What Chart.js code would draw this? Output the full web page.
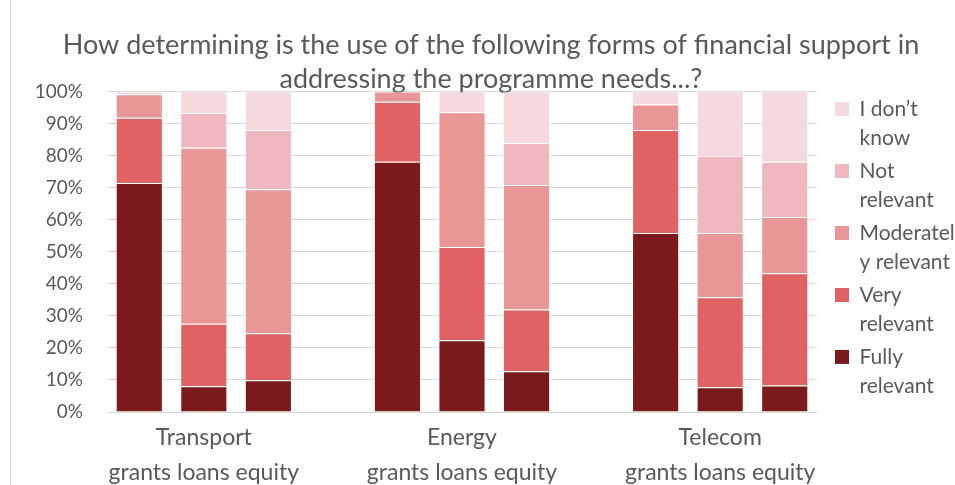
<!DOCTYPE html>
<html>
<head>
<meta charset="utf-8">
<script src="https://cdn.jsdelivr.net/npm/chart.js@4/dist/chart.umd.min.js"></script>
<style>
  html, body { margin: 0; padding: 0; background: #fff; }
  #wrap { position: relative; width: 955px; height: 485px; }
  #edge { position: absolute; left: 10px; top: 0; width: 1px; height: 485px; background: #d9d9d9; }
</style>
</head>
<body>
<div id="wrap">
  <canvas id="chart" width="955" height="485"></canvas>
  <div id="edge"></div>
</div>
<script>
// sectors and the form of support inside each
const sectors = ['Transport', 'Energy', 'Telecom'];
const forms = ['grants', 'loans', 'equity'];

// shares in %, order: Transport grants/loans/equity, Energy ..., Telecom ...
const fullyRelevant      = [71.4,  8.0,  9.9, 78.1, 22.4, 12.7, 55.8,  7.7,  8.3];
const veryRelevant       = [20.4, 19.5, 14.7, 18.7, 29.1, 19.3, 32.2, 28.1, 35.0];
const moderatelyRelevant = [ 7.3, 54.9, 44.9,  3.2, 42.0, 38.8,  7.9, 20.0, 17.5];
const notRelevant        = [ 0.0, 10.9, 18.5,  0.0,  0.0, 13.1,  0.0, 24.1, 17.3];
const dontKnow           = [ 0.9,  6.7, 12.0,  0.0,  6.5, 16.1,  4.1, 20.1, 21.9];

const yTicks = [0, 10, 20, 30, 40, 50, 60, 70, 80, 90, 100];

const seriesNames = ['Fully\nrelevant', 'Very\nrelevant', 'Moderatel\ny relevant', 'Not\nrelevant', 'I don\u2019t\nknow'];
const seriesColors = ['#7a1a1a', '#e06262', '#e99696', '#efb8c1', '#f6d9dd'];
const seriesValues = [fullyRelevant, veryRelevant, moderatelyRelevant, notRelevant, dontKnow];

// one empty slot between sectors, like the original
const labels = [];
const slotOf = [];
sectors.forEach((s, si) => {
  forms.forEach((f, fi) => {
    slotOf.push(labels.length);
    labels.push(fi === 1 ? [s, forms.join(' ')] : '');
  });
  if (si < sectors.length - 1) labels.push('');
});

function spread(vals) {
  const out = labels.map(() => null);
  vals.forEach((v, i) => { out[slotOf[i]] = v; });
  return out;
}

const grey = '#595959';
const font = 'Lato, "Open Sans", sans-serif';

new Chart(document.getElementById('chart'), {
  type: 'bar',
  data: {
    labels: labels,
    datasets: seriesValues.map((vals, i) => ({
      label: seriesNames[i],
      data: spread(vals),
      backgroundColor: seriesColors[i],
      borderColor: 'rgba(255,255,255,0.7)',
      borderWidth: 1,
      categoryPercentage: 1,
      barPercentage: 0.73
    }))
  },
  options: {
    responsive: false,
    animation: false,
    layout: { padding: { left: 27, right: 0, top: 0, bottom: 0 } },
    plugins: {
      title: {
        display: true,
        text: ['How determining is the use of the following forms of financial support in',
               'addressing the programme needs...?'],
        color: grey,
        font: { family: font, size: 27, weight: 'normal', lineHeight: 1.23 },
        padding: { top: 29, bottom: -4 }
      },
      legend: {
        position: 'right',
        reverse: true,
        maxWidth: 124,
        title: { display: true, text: ' ', font: { size: 10, lineHeight: 1 }, padding: 4 },
        labels: {
          color: grey,
          font: { family: font, size: 21, lineHeight: 1.38 },
          boxWidth: 14,
          boxHeight: 14,
          padding: 4,
          generateLabels: chart => chart.data.datasets.map((d, i) => ({
            text: d.label.split('\n'),
            fillStyle: d.backgroundColor,
            strokeStyle: d.backgroundColor,
            lineWidth: 0,
            fontColor: grey,
            datasetIndex: i
          }))
        }
      },
      tooltip: { enabled: false }
    },
    scales: {
      x: {
        stacked: true,
        grid: { display: false },
        border: { color: '#d9d9d9' },
        afterFit: s => { s.height = 73; },
        ticks: {
          autoSkip: false,
          maxRotation: 0,
          color: grey,
          padding: 0,
          font: { family: font, size: 23, lineHeight: 1.52 }
        }
      },
      y: {
        stacked: true,
        min: 0,
        max: 100,
        afterBuildTicks: axis => { axis.ticks = yTicks.map(v => ({ value: v })); },
        afterFit: s => { s.width = 80; },
        grid: { color: '#d9d9d9', drawTicks: false },
        border: { display: false },
        ticks: {
          color: grey,
          padding: 24,
          font: { family: font, size: 19 },
          callback: v => v + '%'
        }
      },
      gap: {
        position: 'right',
        display: true,
        grid: { display: false },
        border: { display: false },
        ticks: { display: false },
        afterFit: s => { s.width = 14; }
      }
    }
  }
});
</script>
</body>
</html>
